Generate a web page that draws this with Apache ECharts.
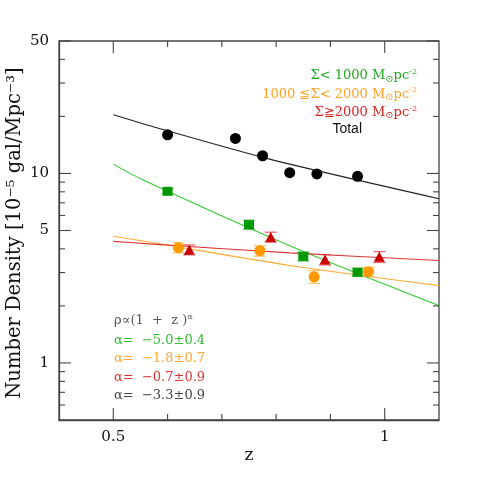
<!DOCTYPE html>
<html><head><meta charset="utf-8">
<script src="https://cdn.jsdelivr.net/npm/echarts@6/dist/echarts.min.js"></script>
<style>html,body{margin:0;padding:0;background:#fff}#c{width:480px;height:479px}</style>
</head><body><div id="c"></div>
<script>
// ---- data ----
const totalZ = [0.60, 0.725, 0.775, 0.825, 0.875, 0.95];
const totalN = [16.0, 15.3, 12.4, 10.1, 9.94, 9.66];

const lowZ = [0.60, 0.75, 0.85, 0.95];
const lowN = [8.05, 5.37, 3.65, 3.01];
const lowErr = [0.25, 0.30, 0.20, 0.15];

const midZ = [0.62, 0.77, 0.87, 0.97];
const midN = [4.06, 3.91, 2.85, 3.03];
const midErr = [0.25, 0.25, 0.22, 0.17];

const highZ = [0.64, 0.79, 0.89, 0.99];
const highN = [3.96, 4.62, 3.51, 3.63];
const highErr = [0.24, 0.28, 0.22, 0.24];

// fitted power-law lines
const totalFitZ = [0.5, 0.566, 0.788, 1.1];
const totalFitN = [20.4, 17.9, 11.9, 7.36];
const lowFitZ = [0.5, 0.554, 0.825, 1.1];
const lowFitN = [11.2, 9.27, 4.16, 2.01];
const midFitZ = [0.5, 0.566, 0.825, 1.1];
const midFitN = [4.66, 4.35, 3.27, 2.56];
const highFitZ = [0.5, 0.566, 0.825, 1.1];
const highFitN = [4.38, 4.25, 3.81, 3.47];

// ticks
const xMajor = [0.5, 1];
const xMinor = [0.6, 0.7, 0.8, 0.9];
const yMajor = [1, 5, 10, 50];
const yMinor = [0.6, 0.7, 0.8, 0.9, 2, 3, 4, 6, 7, 8, 9, 20, 30, 40];

const legendLines = [
  {t: 'Σ< 1000 M', c: '#22aa22'},
  {t: '1000 ≦Σ< 2000 M', c: '#ffa126'},
  {t: 'Σ≧2000 M', c: '#dd2222'}
];
const fitLines = [
  {t: 'α=  −5.0±0.4', c: '#33bb33'},
  {t: 'α=  −1.8±0.7', c: '#ffa733'},
  {t: 'α=  −0.7±0.9', c: '#dd3333'},
  {t: 'α=  −3.3±0.9', c: '#444444'}
];

// ---- chart ----
const SERIF = '"DejaVu Serif", serif';
const AX = '#444';
const X_MIN = 0.4, X_MAX = 1.1, Y_MIN = 0.5, Y_MAX = 50;
const chart = echarts.init(document.getElementById('c'));

function pairs(xs, ys) { return xs.map((x, i) => [x, ys[i]]); }
function errData(xs, ys, es) { return xs.map((x, i) => [x, ys[i] - es[i], ys[i] + es[i]]); }

const labelStyle = {fontFamily: SERIF, fontSize: 15, color: '#111', margin: 10};

// inside tick marks as thin rect symbols placed through the axes' scales
function tickMarks(data, size, offset) {
  return {type: 'scatter', xAxisIndex: 0, yAxisIndex: 0, z: 6, clip: false, silent: true,
    data: data, symbol: 'rect', symbolSize: size, symbolOffset: offset,
    itemStyle: {color: AX, opacity: 1}, emphasis: {disabled: true}};
}
const xBottom = v => [v, Y_MIN], xTop = v => [v, Y_MAX];
const yLeft = v => [X_MIN, v], yRight = v => [X_MAX, v];
const tickSeries = [
  tickMarks(xMajor.map(xBottom), [1.1, 12], [0, -6]),
  tickMarks(xMinor.map(xBottom), [1.1, 6], [0, -3]),
  tickMarks(xMajor.map(xTop), [1.1, 12], [0, 6]),
  tickMarks(xMinor.map(xTop), [1.1, 6], [0, 3]),
  tickMarks(yMajor.map(yLeft), [12, 1.1], [6, 0]),
  tickMarks(yMinor.map(yLeft), [6, 1.1], [3, 0]),
  tickMarks(yMajor.map(yRight), [12, 1.1], [-6, 0]),
  tickMarks(yMinor.map(yRight), [6, 1.1], [-3, 0])
];

function errSeries(data, color) {
  return {
    type: 'custom', xAxisIndex: 0, yAxisIndex: 0, z: 3,
    data: data, encode: {x: 0, y: [1, 2]},
    renderItem: (params, api) => {
      const x = api.value(0);
      const lo = api.coord([x, api.value(1)]);
      const hi = api.coord([x, api.value(2)]);
      const w = 6;
      const st = {stroke: color, lineWidth: 1.2, opacity: 0.7};
      return {type: 'group', children: [
        {type: 'line', shape: {x1: lo[0], y1: lo[1], x2: hi[0], y2: hi[1]}, style: st},
        {type: 'line', shape: {x1: lo[0] - w, y1: lo[1], x2: lo[0] + w, y2: lo[1]}, style: st},
        {type: 'line', shape: {x1: hi[0] - w, y1: hi[1], x2: hi[0] + w, y2: hi[1]}, style: st}
      ]};
    }
  };
}
function fitSeries(xs, ys, color) {
  return {type: 'line', xAxisIndex: 0, yAxisIndex: 0, z: 2, data: pairs(xs, ys),
    showSymbol: false, symbol: 'none', smooth: 0.3, lineStyle: {color: color, width: 1.1}, silent: true};
}
function ptSeries(xs, ys, symbol, size, color) {
  return {type: 'scatter', xAxisIndex: 0, yAxisIndex: 0, z: 4, data: pairs(xs, ys),
    symbol: symbol, symbolSize: size, itemStyle: {color: color, opacity: 1}};
}

const richLegend = (c) => ({
  t: {fontFamily: SERIF, fontSize: 13, fill: c, color: c, lineHeight: 16},
  s: {fontFamily: SERIF, fontSize: 10, fill: c, color: c, verticalAlign: 'bottom', lineHeight: 10},
  p: {fontFamily: SERIF, fontSize: 8, fill: c, color: c, verticalAlign: 'top', lineHeight: 8}
});

const graphics = [];
legendLines.forEach((l, i) => {
  graphics.push({type: 'text', right: 480 - 417, top: 68 + i * 18.4, z: 10,
    style: {text: '{t|' + l.t + '}{s|⊙}{t|pc}{p|-2}', rich: richLegend(l.c), fill: l.c}});
});
graphics.push({type: 'text', right: 480 - 362, top: 122, z: 10,
  style: {text: 'Total', font: '14px "Liberation Sans", Arial, sans-serif', fill: '#111'}});
graphics.push({type: 'text', left: 114, top: 313, z: 10,
  style: {text: '{t|ρ∝(1  +  z )}{p|α}', rich: richLegend('#555'), fill: '#555'}});
fitLines.forEach((l, i) => {
  graphics.push({type: 'text', left: 114, top: 334 + i * 18.4, z: 10,
    style: {text: l.t, font: '13px ' + SERIF, fill: l.c}});
});
graphics.push({type: 'text', x: 15, y: 233, rotation: Math.PI / 2, z: 10,
  style: {text: 'Number Density [10⁻⁵ gal/Mpc⁻³]', font: '19.5px ' + SERIF, fill: '#111',
    align: 'center', verticalAlign: 'middle'}});
graphics.push({type: 'text', x: 249, y: 456, z: 10,
  style: {text: 'z', font: '17px ' + SERIF, fill: '#111', align: 'center', verticalAlign: 'middle'}});

chart.setOption({
  animation: false,
  grid: {left: 59, right: 41, top: 41, bottom: 59, containLabel: false,
    show: true, borderColor: AX, borderWidth: 1.3, backgroundColor: 'transparent'},
  xAxis: {type: 'value', min: X_MIN, max: X_MAX,
    axisLine: {show: true, lineStyle: {color: AX, width: 1.3}}, splitLine: {show: false},
    axisTick: {show: false},
    axisLabel: Object.assign({customValues: xMajor}, labelStyle)},
  yAxis: {type: 'log', logBase: 10, min: Y_MIN, max: Y_MAX,
    axisLine: {show: true, lineStyle: {color: AX, width: 1.3}}, splitLine: {show: false},
    axisTick: {show: false},
    axisLabel: Object.assign({customValues: yMajor}, labelStyle)},
  series: tickSeries.concat([
    fitSeries(totalFitZ, totalFitN, '#222222'),
    fitSeries(lowFitZ, lowFitN, '#33cc33'),
    fitSeries(midFitZ, midFitN, '#ffaa33'),
    fitSeries(highFitZ, highFitN, '#dd3333'),
    errSeries(errData(lowZ, lowN, lowErr), '#22aa22'),
    errSeries(errData(midZ, midN, midErr), '#ffaa33'),
    errSeries(errData(highZ, highN, highErr), '#dd2222'),
    ptSeries(totalZ, totalN, 'circle', 11, '#000000'),
    ptSeries(lowZ, lowN, 'rect', [10, 9], '#009a00'),
    ptSeries(midZ, midN, 'circle', 11, '#ff9900'),
    ptSeries(highZ, highN, 'triangle', [11, 10], '#cc0000')
  ]),
  graphic: graphics
});
</script>
</body></html>
